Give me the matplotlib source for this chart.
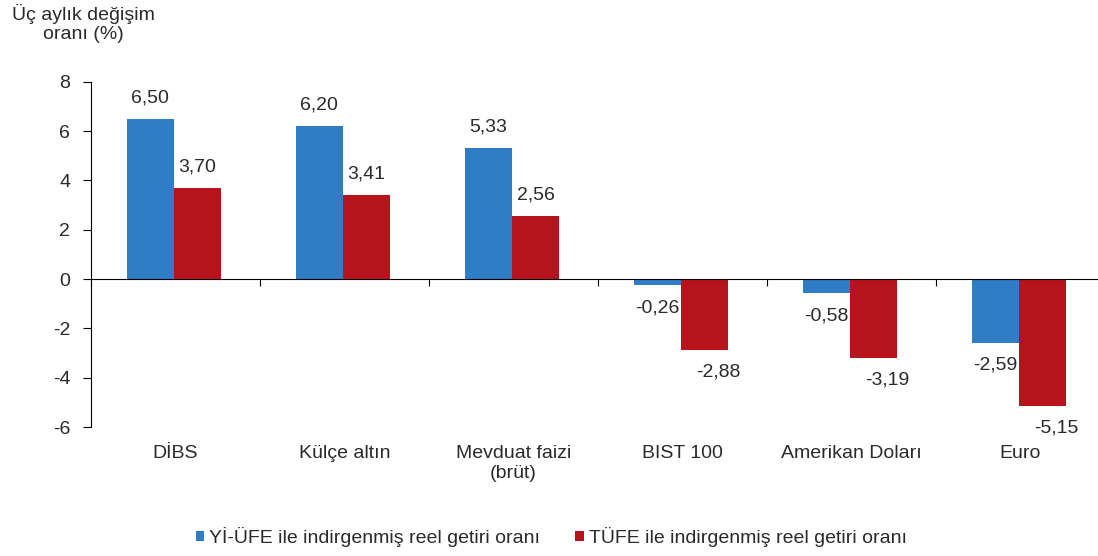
import matplotlib.pyplot as plt
import matplotlib.transforms as mtransforms
import numpy as np

plt.rcParams['font.family'] = ['Liberation Sans', 'DejaVu Sans']
plt.rcParams['axes.unicode_minus'] = False

categories = ["DİBS", "Külçe altın", "Mevduat faizi\n(brüt)", "BIST 100",
              "Amerikan Doları", "Euro"]
yi_ufe = [6.50, 6.20, 5.33, -0.26, -0.58, -2.59]
tufe = [3.70, 3.41, 2.56, -2.88, -3.19, -5.15]
series_names = ["Yİ-ÜFE ile indirgenmiş reel getiri oranı",
                "TÜFE ile indirgenmiş reel getiri oranı"]

BLUE = "#2e7dc5"
RED = "#b5141c"
TXT = "#2a2a2a"
FS = 14


def fmt(v):
    return f"{v:.2f}".replace(".", ",")


def main():
    fig = plt.figure(figsize=(10.98, 5.56), dpi=100)
    # axes runs a bit past the right edge, like the original (Euro label is clipped)
    ax = fig.add_axes([0.0829, 0.232, 0.9235, 0.621])

    x = np.arange(len(categories))
    w = 0.28
    b1 = ax.bar(x - w / 2 - 0.01, yi_ufe, w, color=BLUE, label=series_names[0])
    b2 = ax.bar(x + w / 2 - 0.01, tufe, w, color=RED, label=series_names[1])

    # data labels
    for bars, vals, dx in ((b1, yi_ufe, 0.0), (b2, tufe, 0.08)):
        for rect, v in zip(bars, vals):
            cx = rect.get_x() + rect.get_width() / 2
            if v >= 0:
                ax.annotate(fmt(v), (cx, v), xytext=(0, 9), textcoords="offset points",
                            ha="center", va="bottom", fontsize=FS, color=TXT)
            else:
                ax.annotate(fmt(v), (cx + dx, v), xytext=(0, -10), textcoords="offset points",
                            ha="center", va="top", fontsize=FS, color=TXT)

    ax.set_xlim(-0.5, len(categories) - 0.5)
    ax.set_ylim(-6, 8)
    ax.set_yticks(np.arange(-6, 9, 2))
    ax.tick_params(axis="y", direction="out", length=6, labelsize=FS, pad=9,
                   labelcolor=TXT)

    for s in ("top", "right"):
        ax.spines[s].set_visible(False)
    ax.spines["bottom"].set_position(("data", 0))
    ax.set_xticks(np.arange(len(categories)) - 0.5)
    ax.set_xticklabels([])
    ax.tick_params(axis="x", direction="out", length=5)

    trans = mtransforms.blended_transform_factory(ax.transData, ax.transAxes)
    for xi, name in zip(x, categories):
        ax.text(xi, -0.052, name, transform=trans, ha="center", va="top",
                fontsize=FS, color=TXT, linespacing=1.25)

    fig.text(0.0756, 0.993, "Üç aylık değişim\noranı (%)", ha="center", va="top",
             fontsize=FS, color=TXT, linespacing=1.2)

    fig.legend(handles=[b1, b2], loc="center", bbox_to_anchor=(0.502, 0.034),
               ncol=2, frameon=False, fontsize=FS, handlelength=0.45,
               handleheight=0.45, handletextpad=0.25, columnspacing=1.8,
               labelcolor=TXT, borderpad=0)

    fig.savefig("out.png", dpi=100)


if __name__ == "__main__":
    main()
